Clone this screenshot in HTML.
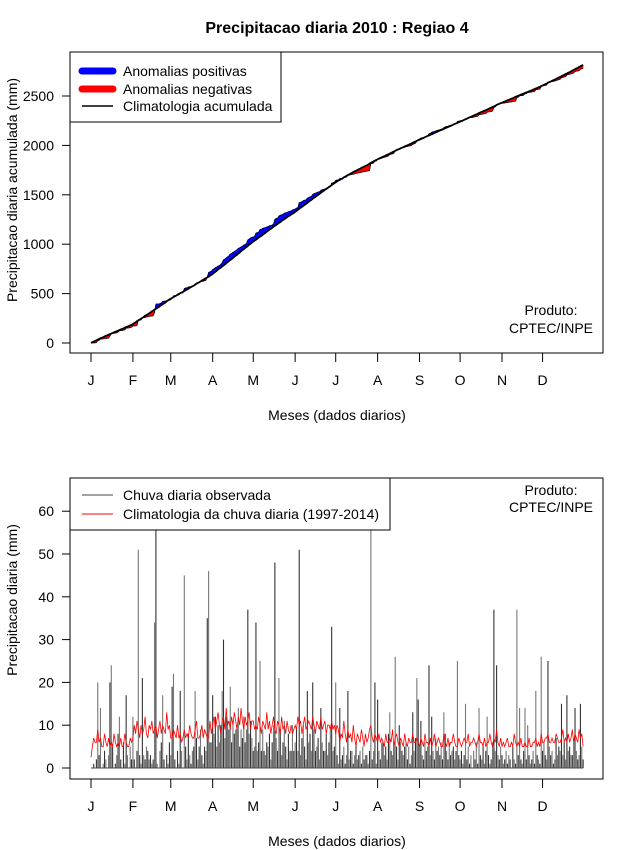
<!DOCTYPE html>
<html><head><meta charset="utf-8"><style>
html,body{margin:0;padding:0;background:#fff;}
svg{display:block;font-family:"Liberation Sans",sans-serif;}
</style></head><body>
<svg id="chart" width="640" height="850" viewBox="0 0 640 850" xmlns="http://www.w3.org/2000/svg">
<text x="337" y="33" text-anchor="middle" font-size="16" font-weight="bold">Precipitacao diaria 2010 : Regiao 4</text>
<g id="topPanel"></g>
<g id="botPanel"></g>
</svg>
<script>
const monthLabels = ["J","F","M","A","M","J","J","A","S","O","N","D"];
const monthStartDay = [0,31,59,90,120,151,181,212,243,273,304,334];
const topTicks = [0,500,1000,1500,2000,2500];
const botTicks = [0,10,20,30,40,50,60];
const obsDaily = [
0,0,1,0,2,20,3,14,0,1,4,2,0,3,20,24,5,0,1,3,8,12,2,0,6,1,17,3,0,5,2,
12,2,0,4,51,3,1,21,3,2,5,4,2,3,1,2,34,85,1,0,4,6,17,2,0,3,1,6,
3,19,22,2,0,4,1,18,4,0,45,5,2,8,3,1,4,5,18,7,2,5,9,3,1,5,4,35,46,6,6,
17,8,12,5,10,6,10,18,30,7,12,11,9,19,6,11,8,9,10,14,5,9,7,12,6,9,37,8,11,7,
4,5,34,4,6,25,4,9,4,3,6,5,8,2,6,10,48,7,4,21,9,3,6,11,5,2,8,4,4,10,4,
6,9,4,51,3,7,10,5,2,18,6,8,4,20,9,4,5,7,2,14,6,4,4,8,3,6,9,33,4,5,
20,3,1,14,2,3,5,1,3,18,2,4,4,1,3,6,2,3,4,1,5,2,3,3,1,4,70,2,4,20,1,
16,4,2,6,6,3,5,2,8,13,4,3,6,26,5,2,10,6,4,3,5,6,2,5,1,3,13,4,7,21,16,
5,11,3,2,6,4,5,24,3,12,4,2,7,4,5,3,6,2,13,8,4,2,6,3,4,5,2,4,25,3,
2,4,1,3,15,2,5,1,3,0,4,2,6,1,14,3,2,5,1,4,12,3,1,2,6,37,4,24,3,2,5,
3,1,2,4,1,3,2,0,5,2,1,37,3,14,2,1,4,14,2,10,3,1,2,4,1,18,3,2,1,26,
4,6,3,2,25,5,3,4,1,2,7,3,5,4,15,3,6,2,17,4,5,3,3,6,14,4,2,3,15,5,2];
const climDaily = [
2.5,5,7,6,6,9,6,7,5,5,8,6,5,7,5,6,5,8,6,5,6,5,7,5,5,8,6,5,5,7,6,
7,10,8,11,9,7,10,8,9,12,8,7,10,9,11,8,9,10,7,9,11,8,10,9,8,13,9,10,
7,7,9,8,7,10,7,8,6,7,9,7,8,7,10,8,7,7,9,11,7,7,8,10,7,9,8,7,7,11,8,
10,12,9,11,13,10,8,11,12,9,14,10,11,9,12,10,13,11,9,12,10,14,11,9,12,10,11,13,9,11,
11,9,10,9,12,10,8,11,10,9,13,9,11,8,10,12,9,8,11,10,8,12,9,10,8,11,9,8,10,8,9,
10,9,12,10,11,8,10,12,9,10,11,10,9,12,10,8,11,10,9,12,9,10,11,8,10,10,9,11,9,10,
8,10,9,6,8,7,11,8,6,9,7,8,6,10,7,5,8,7,6,9,7,5,8,6,7,9,10,7,6,8,7,
6,8,6,7,6,5,8,6,6,7,6,9,5,7,8,6,5,7,6,5,8,6,5,7,6,6,8,6,6,7,6,
5,7,6,5,8,6,6,5,7,5,6,8,5,6,7,6,5,5,8,6,5,7,5,6,6,8,6,5,5,7,
6,5,6,7,6,6,8,5,6,6,7,6,5,6,8,6,6,5,7,5,6,6,8,6,5,7,6,9,6,5,7,
5,6,5,6,7,5,5,6,5,8,6,5,6,5,7,5,5,6,5,5,7,5,5,6,6,7,5,6,5,8,
6,6,7,7,8,6,6,7,6,6,8,7,6,6,7,9,6,7,6,8,6,7,9,6,8,7,6,9,7,8,5];

const NS="http://www.w3.org/2000/svg";
function mk(parent,tag,attrs,txt){const e=document.createElementNS(NS,tag);for(const k in attrs)e.setAttribute(k,attrs[k]);if(txt!==undefined)e.textContent=txt;parent.appendChild(e);return e;}
const xDay = d => 91 + d*1.352;
const yTop = v => 343 - v*0.0988;
const yBot = v => Math.max(478, 768 - v*4.28);

function axes(g, boxY, boxH, ticks, yf, ytitle, ytitleY){
  const bb=boxY+boxH;
  let e=mk(g,'rect',{x:70,y:boxY,width:533,height:boxH,fill:'none',stroke:'#000','stroke-width':1});
  
  
  monthLabels.forEach((m,i)=>{
    const x=xDay(monthStartDay[i]);
    mk(g,'line',{x1:x,x2:x,y1:bb,y2:bb+9,stroke:'#000'});
    const t=mk(g,'text',{x:x,y:bb+32,'text-anchor':'middle','font-size':14},m);
    
    
  });
  ticks.forEach(v=>{
    const y=yf(v);
    mk(g,'line',{x1:62,x2:70,y1:y,y2:y,stroke:'#000'});
    const t=mk(g,'text',{x:54,y:y+5,'text-anchor':'end','font-size':14},String(v));
    
    
  });
  const xt=mk(g,'text',{x:337,y:bb+67,'text-anchor':'middle','font-size':14},'Meses (dados diarios)');
  
  
  const yt=mk(g,'text',{x:17,y:ytitleY,'text-anchor':'middle','font-size':14,transform:`rotate(-90 17 ${ytitleY})`},ytitle);
  
  
}

// TOP PANEL
const topG=document.getElementById('topPanel');
const obsCum=[],climCum=[];
let so=0,sc=0;
for(let i=0;i<obsDaily.length;i++){so+=obsDaily[i];sc+=climDaily[i];obsCum.push(so);climCum.push(sc);}
for(let i=0;i<obsCum.length-1;i++){
  const d=(obsCum[i]-climCum[i])+(obsCum[i+1]-climCum[i+1]);
  const p=mk(topG,'polygon',{points:`${xDay(i)},${yTop(obsCum[i])} ${xDay(i+1)},${yTop(obsCum[i+1])} ${xDay(i+1)},${yTop(climCum[i+1])} ${xDay(i)},${yTop(climCum[i])}`,fill:d>=0?'#0000ff':'#ff0000',stroke:d>=0?'#0000ff':'#ff0000','stroke-width':0.4});
  
  
}
let ol=mk(topG,'polyline',{points:obsCum.map((v,i)=>xDay(i)+','+yTop(v)).join(' '),fill:'none',stroke:'#000','stroke-width':0.7});


let cl=mk(topG,'polyline',{points:climCum.map((v,i)=>xDay(i)+','+yTop(v)).join(' '),fill:'none',stroke:'#000','stroke-width':1.8});


axes(topG,52,301,topTicks,yTop,'Precipitacao diaria acumulada (mm)',190);
let lg=mk(topG,'g',{});


mk(lg,'rect',{x:70,y:52,width:211,height:70,fill:'#fff',stroke:'#000'});
[['#0000ff',7,'Anomalias positivas',71],['#ff0000',7,'Anomalias negativas',89],['#000',1.5,'Climatologia acumulada',106]].forEach(r=>{
  const le=mk(lg,'g',{});
  
  
  mk(le,'line',{x1:82,x2:113,y1:r[3],y2:r[3],stroke:r[0],'stroke-width':r[1],'stroke-linecap':r[1]>2?'round':'butt'});
  mk(le,'text',{x:123,y:r[3]+5,'font-size':14},r[2]);
});
let pr=mk(topG,'text',{x:551,y:315,'text-anchor':'middle','font-size':14},'Produto:');


let pr2=mk(topG,'text',{x:551,y:333,'text-anchor':'middle','font-size':14},'CPTEC/INPE');



// BOTTOM PANEL
const botG=document.getElementById('botPanel');
obsDaily.forEach((v,i)=>{
  if(v<=0)return;
  const b=mk(botG,'line',{x1:xDay(i),x2:xDay(i),y1:yBot(0),y2:yBot(v),stroke:i%2?'#777':'#333','stroke-width':1.1});
  
  
});
mk(botG,'line',{x1:xDay(0),x2:xDay(364),y1:yBot(0),y2:yBot(0),stroke:'#444','stroke-width':1});
let rl=mk(botG,'polyline',{points:climDaily.map((v,i)=>xDay(i)+','+yBot(v)).join(' '),fill:'none',stroke:'#ff0000','stroke-width':0.8});


axes(botG,478,301,botTicks,yBot,'Precipitacao diaria (mm)',600);
let lg2=mk(botG,'g',{});


mk(lg2,'rect',{x:70,y:478,width:320,height:52,fill:'#fff',stroke:'#000'});
[['#444','Chuva diaria observada',495],['#ff0000','Climatologia da chuva diaria (1997-2014)',514]].forEach(r=>{
  const le=mk(lg2,'g',{});
  
  
  mk(le,'line',{x1:82,x2:113,y1:r[2],y2:r[2],stroke:r[0],'stroke-width':1});
  mk(le,'text',{x:123,y:r[2]+5,'font-size':14},r[1]);
});
let pb=mk(botG,'text',{x:551,y:495,'text-anchor':'middle','font-size':14},'Produto:');


let pb2=mk(botG,'text',{x:551,y:512,'text-anchor':'middle','font-size':14},'CPTEC/INPE');


</script>
</body></html>
